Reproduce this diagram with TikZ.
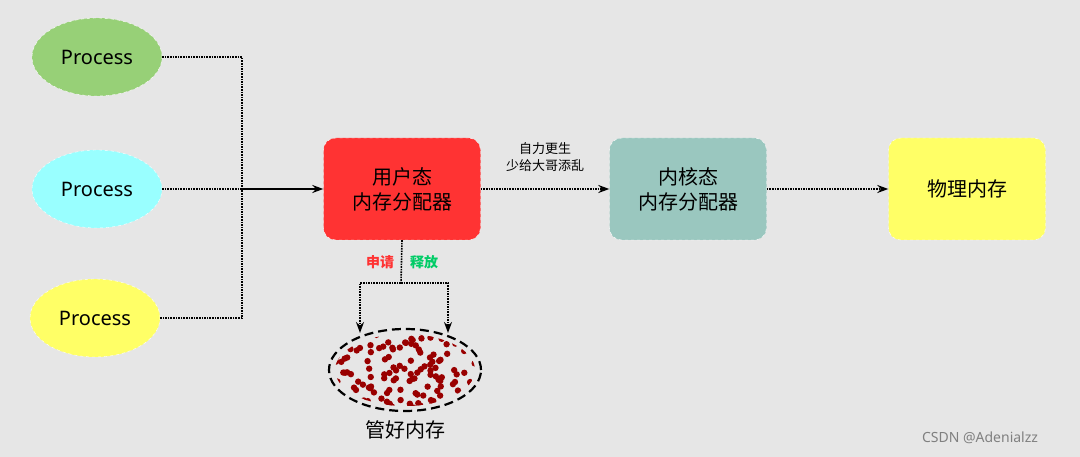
\documentclass[tikz,border=0pt]{standalone}
\usepackage{fontspec}
\setmainfont{Noto Sans}
\newfontfamily\cjk{Noto Sans CJK SC}
\usetikzlibrary{shapes.geometric,arrows.meta}
\definecolor{bg}{HTML}{E6E6E6}
\definecolor{pgreen}{HTML}{97D077}
\definecolor{pcyan}{HTML}{99FFFF}
\definecolor{pyellow}{HTML}{FFFF66}
\definecolor{ured}{HTML}{FF3333}
\definecolor{kteal}{HTML}{9AC7BF}
\definecolor{dotred}{HTML}{990000}
\definecolor{okgreen}{HTML}{00CC66}
\begin{document}
\begin{tikzpicture}[x=1pt,y=-1pt,
  proc/.style={ellipse,minimum width=130pt,minimum height=78pt,draw=white,dashed,font=\bfseries\fontsize{20}{22}\selectfont},
  box/.style={rounded corners=12pt,minimum width=157pt,minimum height=102pt,draw=white,dashed,align=center,font=\cjk\fontsize{20}{25}\selectfont},
  dline/.style={densely dotted,line width=1.6pt},
  tip/.style={-{Stealth[length=11pt,width=8pt]}}]
\fill[bg] (0,0) rectangle (1080,457);
\useasboundingbox (0,0) rectangle (1080,457);
\node[proc,fill=pgreen] (p1) at (97,57) {Process};
\node[proc,fill=pcyan] (p2) at (97,189) {Process};
\node[proc,fill=pyellow] (p3) at (95,318) {Process};
\coordinate (j) at (242,189);
\node[box,fill=ured] (u) at (402,189) {用户态\\内存分配器};
\node[box,fill=kteal] (k) at (688,189) {内核态\\内存分配器};
\node[box,fill=pyellow] (m) at (967,189) {物理内存};
\draw[dline] (p1.east) -- (p1.east -| j) -- (p3.east -| j) -- (p3.east);
\draw[dline] (p2.east) -- (j);
\draw[line width=1.6pt,tip] (j) -- (u.west);
\draw[dline,tip] (u.east) -- (k.west);
\draw[dline,tip] (k.east) -- (m.west);
\node[font=\cjk\fontsize{13}{17}\selectfont,align=center] (lab) at (545,157) {自力更生\\少给大哥添乱};
\node[ellipse,minimum width=152pt,minimum height=82pt] (pool) at (405,370) {};
\coordinate (s) at (401,283);
\draw[dline] (u.south) -- (s);
\draw[dline,tip] (s) -- (360,283) -- (360,333);
\draw[dline,tip] (s) -- (448,283) -- (448,333);
\node[font=\cjk\bfseries\fontsize{14}{16}\selectfont,text=ured] (sq) at (380,262) {申请};
\node[font=\cjk\bfseries\fontsize{14}{16}\selectfont,text=okgreen] (sf) at (424,262) {释放};
\begin{scope}
\clip (405,370) ellipse (70pt and 36pt);
\pgfmathsetseed{7}
\foreach \i in {1,...,140}{
  \pgfmathsetmacro\xx{405+72*rand}
  \pgfmathsetmacro\yy{370+38*rand}
  \fill[dotred] (\xx,\yy) circle (3.2pt);
}
\end{scope}
\draw[line width=2.2pt,dash pattern=on 9pt off 5pt] (405,370) ellipse (76pt and 41pt);
\node[font=\cjk\fontsize{20}{22}\selectfont] (gl) at (405,430) {管好内存};
\node[font=\fontsize{14}{16}\selectfont,text=gray] (wm) at (980,438) {CSDN @Adenialzz};
\end{tikzpicture}
\end{document}
